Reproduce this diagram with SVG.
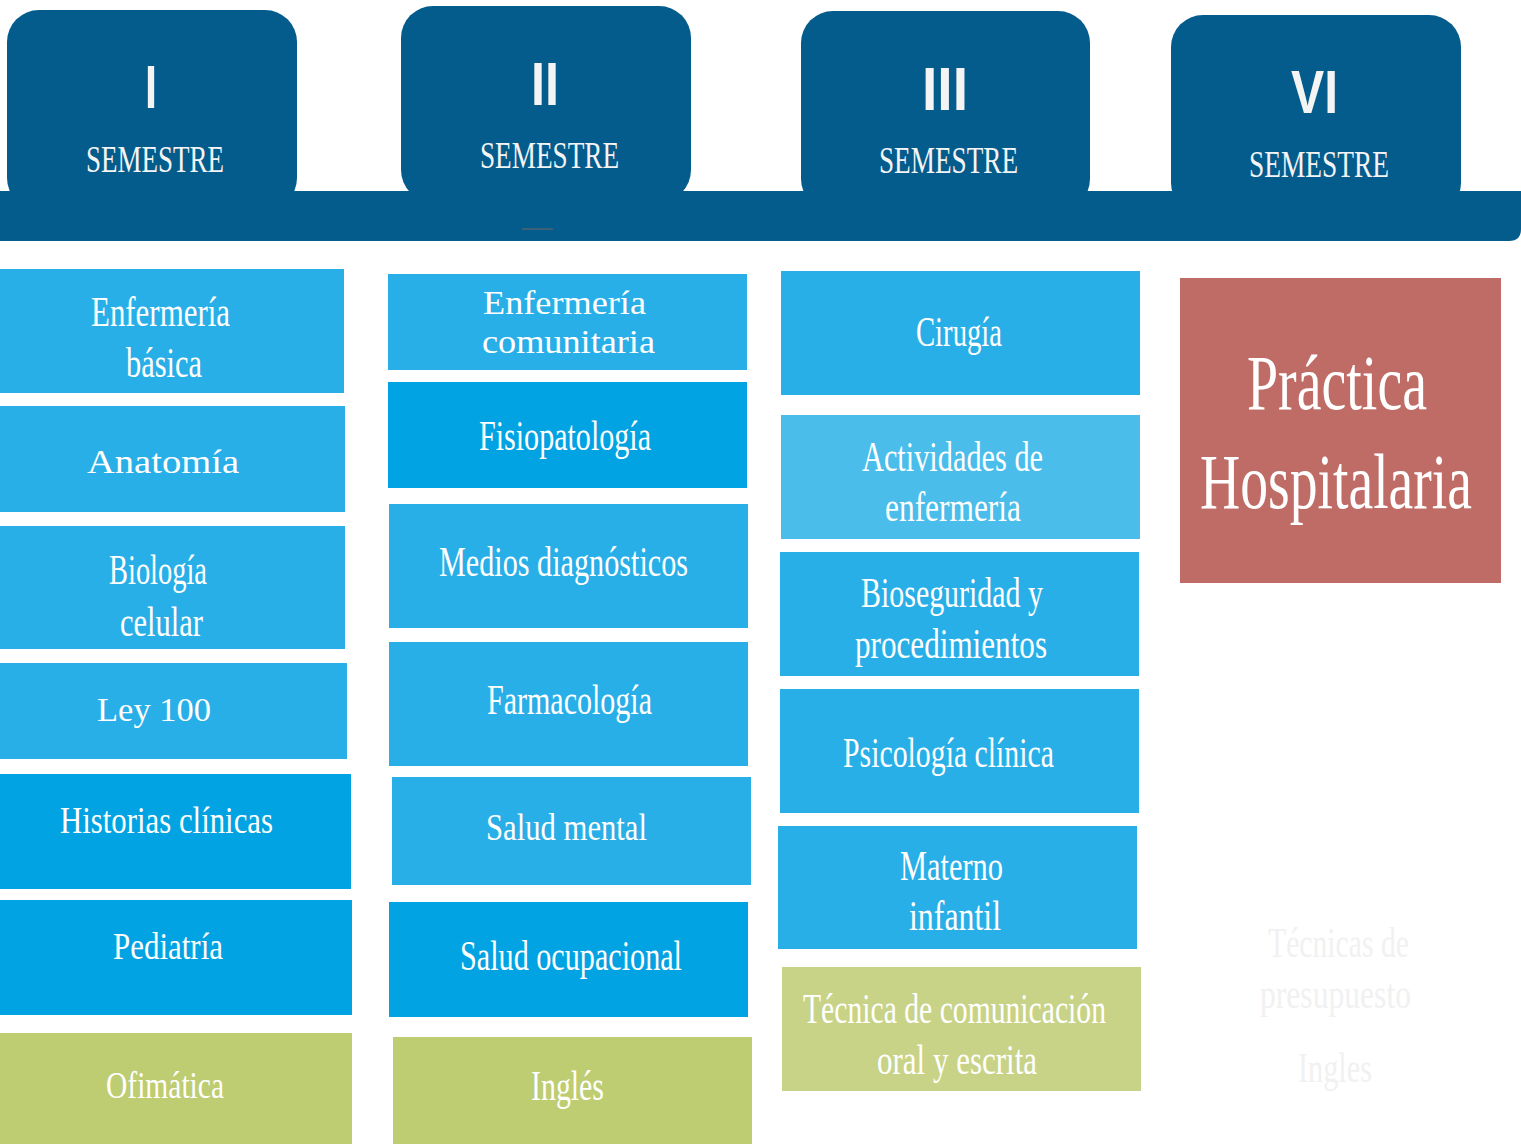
<svg xmlns="http://www.w3.org/2000/svg" width="1521" height="1144" viewBox="0 0 1521 1144">
<style>
.hdr{fill:#045C8D}
.b1{fill:#29AFE8}
.b2{fill:#02A3E2}
.b3{fill:#4ABDEB}
.g1{fill:#BECC72}
.g2{fill:#C8D387}
.rd{fill:#BF6C66}
text{font-family:"Liberation Serif","DejaVu Serif",serif;fill:#FFFFFF;text-anchor:middle}
.num{font-family:"Liberation Sans","DejaVu Sans",sans-serif;font-weight:bold;font-size:61px;fill:#F4F4F4}
.sem{font-size:38px;fill:#F4F4F4}
.t42{font-size:42px}
.t38{font-size:38px}
.w33{font-size:33px}
.big{font-size:55px}
.ghost{font-size:42px;fill:#F1F1F1}
</style>
<rect width="1521" height="1144" fill="#FFFFFF"/>
<g id="header-bar">
<path class="hdr" d="M0 191 H1521 V229 Q1521 241 1509 241 H0 Z"/>
<rect x="522" y="228" width="31" height="2" fill="#3D5F78"/>
</g>
<g id="sem1">
<rect class="hdr" x="7" y="10" width="290" height="200" rx="32"/>
<text class="num" x="151" y="108" textLength="12" lengthAdjust="spacingAndGlyphs">I</text>
<text class="sem" x="155" y="172" textLength="138" lengthAdjust="spacingAndGlyphs">SEMESTRE</text>
</g>
<g id="sem2">
<rect class="hdr" x="401" y="6" width="290" height="196" rx="32"/>
<text class="num" x="545" y="105" textLength="28" lengthAdjust="spacingAndGlyphs">II</text>
<text class="sem" x="549.5" y="168" textLength="139" lengthAdjust="spacingAndGlyphs">SEMESTRE</text>
</g>
<g id="sem3">
<rect class="hdr" x="801" y="11" width="289" height="200" rx="32"/>
<text class="num" x="945" y="110" textLength="46" lengthAdjust="spacingAndGlyphs">III</text>
<text class="sem" x="948.5" y="173" textLength="139" lengthAdjust="spacingAndGlyphs">SEMESTRE</text>
</g>
<g id="sem6">
<rect class="hdr" x="1171" y="15" width="290" height="200" rx="32"/>
<text class="num" x="1314.5" y="113" textLength="47" lengthAdjust="spacingAndGlyphs">VI</text>
<text class="sem" x="1319" y="177" textLength="140" lengthAdjust="spacingAndGlyphs">SEMESTRE</text>
</g>

<g id="enfermeria-basica">
<rect class="b1" x="0" y="269" width="344" height="124"/>
<text class="t42" x="160.5" y="326" textLength="139" lengthAdjust="spacingAndGlyphs">Enfermería</text>
<text class="t42" x="164" y="377" textLength="76" lengthAdjust="spacingAndGlyphs">básica</text>
</g>
<g id="anatomia">
<rect class="b1" x="0" y="406" width="345" height="106"/>
<text class="w33" x="163" y="473" textLength="152" lengthAdjust="spacingAndGlyphs">Anatomía</text>
</g>
<g id="biologia-celular">
<rect class="b1" x="0" y="526" width="345" height="123"/>
<text class="t42" x="158" y="584" textLength="98" lengthAdjust="spacingAndGlyphs">Biología</text>
<text class="t42" x="161.5" y="636" textLength="83" lengthAdjust="spacingAndGlyphs">celular</text>
</g>
<g id="ley-100">
<rect class="b1" x="0" y="663" width="347" height="96"/>
<text class="w33" x="154" y="721" textLength="114" lengthAdjust="spacingAndGlyphs">Ley 100</text>
</g>
<g id="historias-clinicas">
<rect class="b2" x="0" y="774" width="351" height="115"/>
<text class="t38" x="166.5" y="833" textLength="213" lengthAdjust="spacingAndGlyphs">Historias clínicas</text>
</g>
<g id="pediatria">
<rect class="b2" x="0" y="900" width="352" height="115"/>
<text class="t38" x="168" y="959" textLength="110" lengthAdjust="spacingAndGlyphs">Pediatría</text>
</g>
<g id="ofimatica">
<rect class="g1" x="0" y="1033" width="352" height="111"/>
<text class="t38" x="165" y="1098" textLength="118" lengthAdjust="spacingAndGlyphs">Ofimática</text>
</g>

<g id="enfermeria-comunitaria">
<rect class="b1" x="388" y="274" width="359" height="96"/>
<text class="w33" x="564.5" y="314" textLength="163" lengthAdjust="spacingAndGlyphs">Enfermería</text>
<text class="w33" x="568.5" y="353" textLength="173" lengthAdjust="spacingAndGlyphs">comunitaria</text>
</g>
<g id="fisiopatologia">
<rect class="b2" x="388" y="382" width="359" height="106"/>
<text class="t42" x="565" y="450" textLength="172" lengthAdjust="spacingAndGlyphs">Fisiopatología</text>
</g>
<g id="medios-diagnosticos">
<rect class="b1" x="389" y="504" width="359" height="124"/>
<text class="t42" x="563.5" y="576" textLength="249" lengthAdjust="spacingAndGlyphs">Medios diagnósticos</text>
</g>
<g id="farmacologia">
<rect class="b1" x="389" y="642" width="359" height="124"/>
<text class="t42" x="569.5" y="714" textLength="165" lengthAdjust="spacingAndGlyphs">Farmacología</text>
</g>
<g id="salud-mental">
<rect class="b1" x="392" y="777" width="359" height="108"/>
<text class="t38" x="566.5" y="840" textLength="161" lengthAdjust="spacingAndGlyphs">Salud mental</text>
</g>
<g id="salud-ocupacional">
<rect class="b2" x="389" y="902" width="359" height="115"/>
<text class="t42" x="571" y="970" textLength="222" lengthAdjust="spacingAndGlyphs">Salud ocupacional</text>
</g>
<g id="ingles">
<rect class="g1" x="393" y="1037" width="359" height="107"/>
<text class="t42" x="567.5" y="1100" textLength="73" lengthAdjust="spacingAndGlyphs">Inglés</text>
</g>

<g id="cirugia">
<rect class="b1" x="781" y="271" width="359" height="124"/>
<text class="t42" x="959" y="346" textLength="86" lengthAdjust="spacingAndGlyphs">Cirugía</text>
</g>
<g id="actividades-enfermeria">
<rect class="b3" x="781" y="415" width="359" height="124"/>
<text class="t42" x="952.5" y="471" textLength="181" lengthAdjust="spacingAndGlyphs">Actividades de</text>
<text class="t42" x="953" y="521" textLength="136" lengthAdjust="spacingAndGlyphs">enfermería</text>
</g>
<g id="bioseguridad">
<rect class="b1" x="780" y="552" width="359" height="124"/>
<text class="t42" x="952" y="607" textLength="182" lengthAdjust="spacingAndGlyphs">Bioseguridad y</text>
<text class="t42" x="951" y="658" textLength="192" lengthAdjust="spacingAndGlyphs">procedimientos</text>
</g>
<g id="psicologia-clinica">
<rect class="b1" x="780" y="689" width="359" height="124"/>
<text class="t42" x="948.5" y="767" textLength="211" lengthAdjust="spacingAndGlyphs">Psicología clínica</text>
</g>
<g id="materno-infantil">
<rect class="b1" x="778" y="826" width="359" height="123"/>
<text class="t42" x="951.5" y="880" textLength="103" lengthAdjust="spacingAndGlyphs">Materno</text>
<text class="t42" x="955" y="930" textLength="92" lengthAdjust="spacingAndGlyphs">infantil</text>
</g>
<g id="tecnica-comunicacion">
<rect class="g2" x="782" y="967" width="359" height="124"/>
<text class="t42" x="954.5" y="1023" textLength="303" lengthAdjust="spacingAndGlyphs">Técnica de comunicación</text>
<text class="t42" x="957" y="1074" textLength="160" lengthAdjust="spacingAndGlyphs">oral y escrita</text>
</g>

<g id="practica-hospitalaria">
<rect class="rd" x="1180" y="278" width="321" height="305"/>
<text class="big" transform="translate(1337 409) scale(1 1.418)" x="0" y="0" textLength="180" lengthAdjust="spacingAndGlyphs">Práctica</text>
<text class="big" transform="translate(1336 508) scale(1 1.418)" x="0" y="0" textLength="272" lengthAdjust="spacingAndGlyphs">Hospitalaria</text>
</g>
<g id="ghost-text">
<text class="ghost" x="1338.5" y="957" textLength="141" lengthAdjust="spacingAndGlyphs">Técnicas de</text>
<text class="ghost" x="1335.5" y="1008" textLength="151" lengthAdjust="spacingAndGlyphs">presupuesto</text>
<text class="ghost" x="1335" y="1082" textLength="74" lengthAdjust="spacingAndGlyphs">Ingles</text>
</g>
<g id="connectors"></g>
</svg>
